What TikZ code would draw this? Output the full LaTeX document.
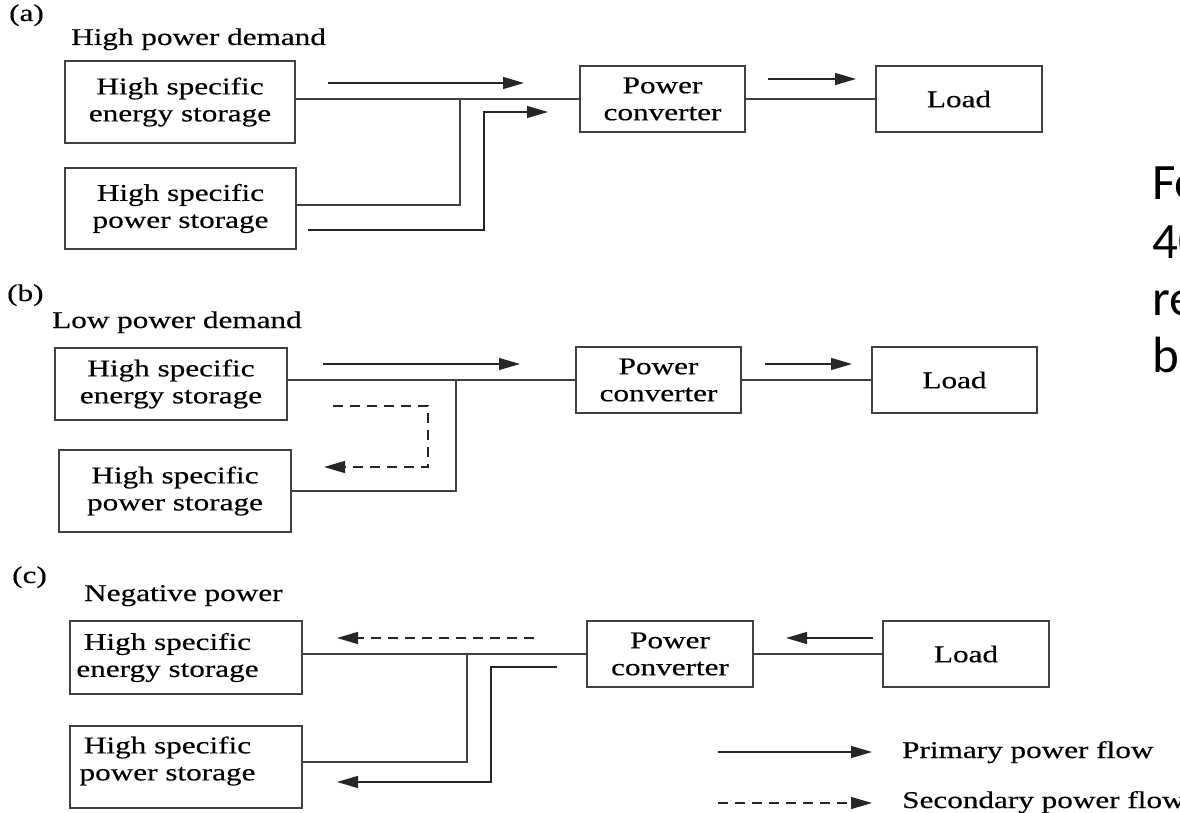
\documentclass[tikz,border=0pt]{standalone}
\usepackage{fontspec}
\setmainfont{Liberation Serif}[FakeStretch=1.3, FakeBold=0.4]
\newfontfamily\slidefont{Carlito}
\usetikzlibrary{arrows.meta}
\newcommand{\boxfont}{\fontsize{24}{27}\selectfont}

\begin{document}
\begin{tikzpicture}[x=1pt, y=-1pt]
\tikzset{
  box/.style 2 args={draw=black!75, line width=1.5pt, minimum width=#1, minimum height=#2, inner sep=0pt, align=center, font=\boxfont},
  lbl/.style={align=center, font=\boxfont, inner sep=0pt},
  heading/.style={anchor=base west, font=\boxfont, inner sep=0pt},
  wire/.style={draw=black!75, line width=1.3pt},
  flow/.style={draw=black!85, line width=1.3pt, -{Triangle[length=21pt, width=12pt]}},
  flowdash/.style={flow, dash pattern=on 10pt off 7pt},
  slide/.style={anchor=base west, font=\slidefont\fontsize{51}{57}\selectfont, inner sep=0pt}
}
\useasboundingbox (0,0) rectangle (1180,813);

% (a) high power demand
\node[heading] (tagA) at (9,21) {(a)};
\node[heading] (hdA) at (71,45) {High power demand};
\node[box={230pt}{82pt}] (esA) at (180,102) {High specific\\energy storage};
\node[box={231pt}{81pt}] (psA) at (180.5,208.5) {High specific\\power storage};
\node[box={165pt}{66pt}] (pcA) at (662.5,99) {Power\\converter};
\node[box={166pt}{66pt}] (ldA) at (959,99) {Load};
\coordinate (jA) at (460,99);
\coordinate (kA) at (460,205);
\draw[wire] (esA.east |- pcA.west) -- (pcA.west);
\draw[wire] (pcA.east) -- (ldA.west);
\draw[wire] (psA.east |- kA) -- (kA) -- (jA);
\coordinate (fA1) at (328,83);  \coordinate (tA1) at (524,83);
\coordinate (fA2) at (308,230); \coordinate (mA2) at (484,112); \coordinate (tA2) at (548,112);
\coordinate (fA3) at (768,79);  \coordinate (tA3) at (856,79);
\draw[flow] (fA1) -- (tA1);
\draw[flow] (fA2) -| (mA2) -- (tA2);
\draw[flow] (fA3) -- (tA3);

% (b) low power demand
\node[heading] (tagB) at (7,301) {(b)};
\node[heading] (hdB) at (52,328) {Low power demand};
\node[box={232pt}{72pt}] (esB) at (171,384) {High specific\\energy storage};
\node[box={232pt}{82pt}] (psB) at (175,491) {High specific\\power storage};
\node[box={165pt}{66pt}] (pcB) at (658.5,380) {Power\\converter};
\node[box={165pt}{66pt}] (ldB) at (954.5,380) {Load};
\coordinate (jB) at (456,380);
\draw[wire] (esB.east |- pcB.west) -- (pcB.west);
\draw[wire] (pcB.east) -- (ldB.west);
\draw[wire] (psB.east) -| (jB);
\coordinate (fB1) at (323,364); \coordinate (tB1) at (520,364);
\coordinate (fB2) at (333,406); \coordinate (mB2) at (428,467); \coordinate (tB2) at (324,467);
\coordinate (fB3) at (765,364); \coordinate (tB3) at (852,364);
\draw[flow] (fB1) -- (tB1);
\draw[flowdash] (fB2) -| (mB2) -- (tB2);
\draw[flow] (fB3) -- (tB3);

% (c) negative power
\node[heading] (tagC) at (12,583) {(c)};
\node[heading] (hdC) at (84,601) {Negative power};
\node[box={232pt}{73pt}, label={[lbl, xshift=-18.5pt]center:High specific\\energy storage}] (esC) at (186,657.5) {};
\node[box={232pt}{82pt}, label={[lbl, xshift=-18.5pt, yshift=6pt]center:High specific\\power storage}] (psC) at (186,767) {};
\node[box={166pt}{66pt}] (pcC) at (670,654) {Power\\converter};
\node[box={166pt}{66pt}] (ldC) at (966,654) {Load};
\coordinate (jC) at (467,654);
\coordinate (kC) at (467,762);
\draw[wire] (esC.east |- pcC.west) -- (pcC.west);
\draw[wire] (pcC.east) -- (ldC.west);
\draw[wire] (psC.east |- kC) -- (kC) -- (jC);
\coordinate (fC1) at (534,638); \coordinate (tC1) at (337,638);
\coordinate (fC2) at (557,667); \coordinate (mC2) at (491,782); \coordinate (tC2) at (337,782);
\coordinate (fC3) at (873,638); \coordinate (tC3) at (786,638);
\draw[flowdash] (fC1) -- (tC1);
\draw[flow] (fC2) -| (mC2) -- (tC2);
\draw[flow] (fC3) -- (tC3);

% legend
\node[heading] (keyP) at (902,758) {Primary power flow};
\node[heading] (keyS) at (902,808) {Secondary power flow};
\coordinate (fK1) at (718,752); \coordinate (tK1) at (872,752);
\coordinate (fK2) at (718,803); \coordinate (tK2) at (872,803);
\draw[flow] (fK1) -- (tK1);
\draw[flowdash] (fK2) -- (tK2);

% slide text cut at the right edge
\node[slide] (sl1) at (1152,200) {Fo};
\node[slide] (sl2) at (1152,258) {40};
\node[slide] (sl3) at (1152,315) {re};
\node[slide] (sl4) at (1152,372) {ba};
\end{tikzpicture}
\end{document}
